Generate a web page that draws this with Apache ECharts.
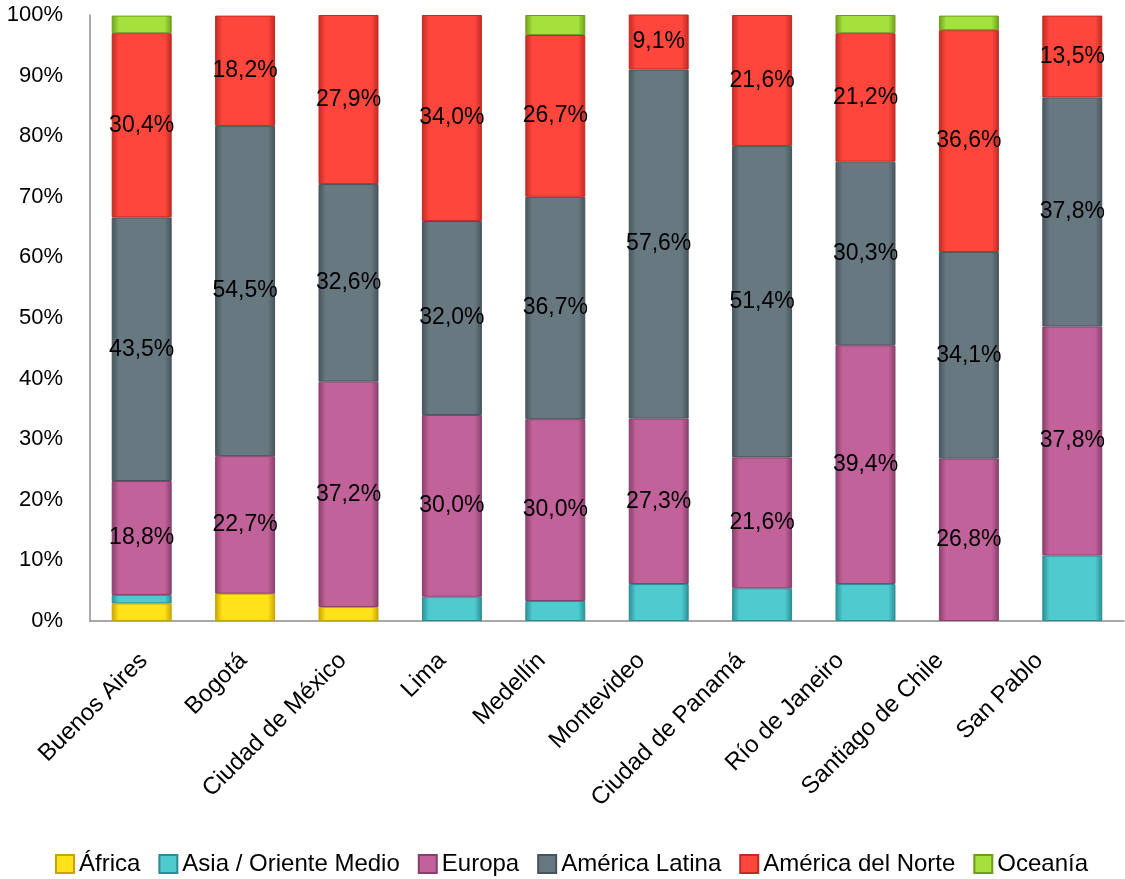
<!DOCTYPE html>
<html>
<head>
<meta charset="utf-8">
<script src="https://cdn.jsdelivr.net/npm/echarts@6/dist/echarts.min.js"></script>
<style>
html,body{margin:0;padding:0;background:#fff;}
#chart{width:1125px;height:879px;}
</style>
</head>
<body>
<div id="chart"></div>
<script>
const cities = ['Buenos Aires','Bogotá','Ciudad de México','Lima','Medellín','Montevideo','Ciudad de Panamá','Río de Janeiro','Santiago de Chile','San Pablo'];
const seriesNames = ['África','Asia / Oriente Medio','Europa','América Latina','América del Norte','Oceanía'];
const africa   = [2.9, 4.5, 2.3, 0,   0,   0,   0,   0,   0,   0];
const asia     = [1.4, 0,   0,   4.0, 3.3, 6.1, 5.4, 6.1, 0,   10.8];
const europa   = [18.8,22.7,37.2,30.0,30.0,27.3,21.6,39.4,26.8,37.8];
const latina   = [43.5,54.5,32.6,32.0,36.7,57.6,51.4,30.3,34.1,37.8];
const norte    = [30.4,18.2,27.9,34.0,26.7,9.1, 21.6,21.2,36.6,13.5];
const oceania  = [2.9, 0,   0,   0,   3.3, 0,   0,   3.0, 2.4, 0];
const yTicks = [0,10,20,30,40,50,60,70,80,90,100];

const values = [africa, asia, europa, latina, norte, oceania];
const colors = [
  {main:'#FFE21A', edge:'#C9A300', light:'#FFF27A'},
  {main:'#4FCBD0', edge:'#2B8E93', light:'#9FF0F3'},
  {main:'#C2629A', edge:'#873F6C', light:'#E08FBF'},
  {main:'#687880', edge:'#46545B', light:'#A2B0B6'},
  {main:'#FF463D', edge:'#C02A22', light:'#FF8A84'},
  {main:'#A6E03C', edge:'#6E9E1C', light:'#D6F77E'}
];
const labelled = [false,false,true,true,true,false];
const FONT = 'Liberation Sans, Arial, sans-serif';

function grad(c){
  return new echarts.graphic.LinearGradient(0,0,1,0,[
    {offset:0, color:c.edge},
    {offset:0.12, color:c.main},
    {offset:0.88, color:c.main},
    {offset:1, color:c.edge}
  ]);
}

const series = values.map((arr, i) => ({
  name: seriesNames[i],
  type: 'bar',
  stack: 'total',
  barWidth: '58%',
  xAxisIndex: 0,
  yAxisIndex: 0,
  data: arr.map(v => v === 0 ? '-' : v),
  itemStyle: {
    color: grad(colors[i]),
    borderColor: colors[i].edge,
    borderWidth: 1
  },
  label: {
    show: labelled[i],
    position: 'inside',
    color: '#000',
    fontFamily: FONT,
    fontSize: 23,
    formatter: p => p.value.toFixed(1).replace('.', ',') + '%'
  }
}));

const chart = echarts.init(document.getElementById('chart'));
chart.setOption({
  animation: false,
  color: colors.map(c => c.main),
  grid: [
    {left: 90, right: 1, top: 15, bottom: 258},
    {left: 94, width: 995, top: 15, bottom: 258}
  ],
  legend: {
    bottom: -2,
    left: 50,
    right: 0,
    icon: 'rect',
    itemWidth: 18,
    itemHeight: 18,
    itemGap: 18,
    data: seriesNames,
    textStyle: {fontFamily: FONT, fontSize: 24, color: '#000'}
  },
  xAxis: [
    {
      type: 'category',
      gridIndex: 0,
      data: cities,
      axisLine: {lineStyle: {color: '#8C8C8C', width: 1.5}},
      axisTick: {show: false},
      axisLabel: {show: false}
    },
    {
      type: 'category',
      gridIndex: 1,
      data: cities,
      axisLine: {show: false},
      axisTick: {show: false},
      axisLabel: {
        rotate: 45,
        margin: 36,
        interval: 0,
        fontFamily: FONT,
        fontSize: 24,
        color: '#000'
      }
    }
  ],
  yAxis: [
    {
      type: 'value',
      gridIndex: 0,
      min: 0,
      max: 100,
      interval: 10,
      axisLine: {show: true, lineStyle: {color: '#8C8C8C', width: 1.5}},
      axisTick: {show: false},
      splitLine: {show: false},
      axisLabel: {
        margin: 27,
        fontFamily: FONT,
        fontSize: 22,
        color: '#000',
        formatter: v => v + '%'
      }
    },
    {
      type: 'value',
      gridIndex: 1,
      show: false,
      min: 0,
      max: 100
    }
  ],
  series: series
});
</script>
</body>
</html>
